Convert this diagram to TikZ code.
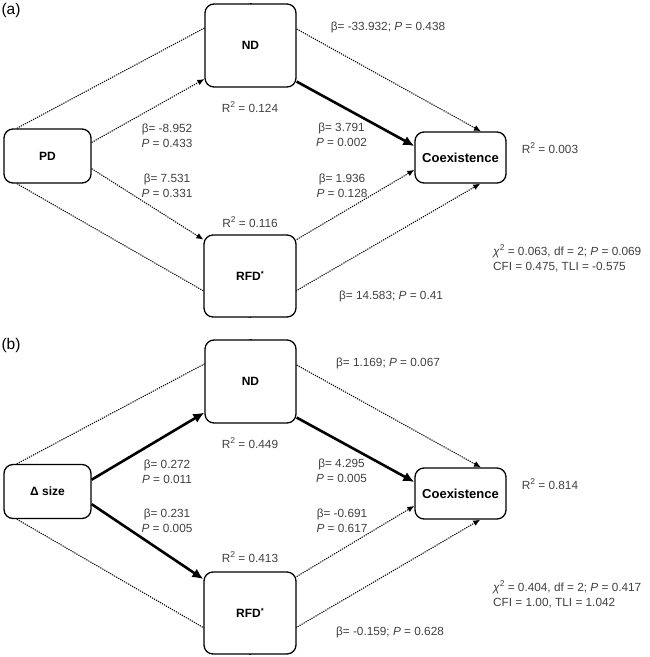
\documentclass[tikz,border=0pt]{standalone}
\usepackage{fontspec}
\setmainfont{Liberation Sans}
\usetikzlibrary{arrows.meta,backgrounds}
\definecolor{lblgray}{HTML}{404040}
\newcommand{\supt}[1]{\raisebox{0.42em}{\fontsize{8.5}{8.5}\selectfont #1}}
\newcommand{\smallstar}{\raisebox{0.38em}{\fontsize{7.5}{7.5}\selectfont *}}
\begin{document}
\begin{tikzpicture}[x=1pt,y=-1pt,
  box/.style={draw, line width=1.3pt, rounded corners=9pt, fill=white, inner sep=0pt,
    font=\fontsize{12}{14}\selectfont\bfseries},
  lbl/.style={text=lblgray, font=\fontsize{11.8}{15}\selectfont, align=center, inner sep=0pt},
  lbll/.style={lbl, align=left, anchor=west},
  dotline/.style={line width=1.05pt, dash pattern=on 1.2pt off 1.1pt},
  dotarrow/.style={dotline, -{Latex[length=7pt,width=6pt]}},
  thickarrow/.style={line width=2.6pt, -{Latex[length=11pt,width=10pt]}},
  panel/.style={font=\fontsize{15.5}{18}\selectfont, inner sep=0pt}
]
\useasboundingbox (0,0) rectangle (649,657);

% ---------- panel (a) ----------
\node[panel] (la) at (11,10) {(a)};
\node[box, minimum width=91pt, minimum height=83pt] (NDa) at (250.5,45.5) {ND};
\node[box, minimum width=87pt, minimum height=54pt] (PDa) at (47.5,156) {PD};
\node[box, minimum width=91pt, minimum height=51pt, font=\fontsize{13}{15}\selectfont\bfseries] (COa) at (460.5,157.5) {Coexistence};
\node[box, minimum width=92pt, minimum height=82pt] (RFa) at (250,276) {RFD\smallstar};

\begin{pgfonlayer}{background}
\draw[dotline] (PDa.138) -- (NDa.north);
\draw[dotarrow] (NDa.north) -- (COa.52);
\draw[dotline] (PDa.222) -- (RFa.south);
\draw[dotarrow] (RFa.south) -- (COa.307);
\end{pgfonlayer}
\draw[dotarrow] (PDa.17) -- (NDa.216);
\draw[dotarrow] (PDa.-16) -- (RFa.142);
\draw[thickarrow] (NDa.-38) -- (COa.166);
\draw[dotarrow] (RFa.38) -- (COa.195);

\node[lbl] (a1) at (388,27) {β= -33.932; \textit{P} = 0.438};
\node[lbl] (a2) at (250,107) {R\supt{2} = 0.124};
\node[lbl] (a3) at (167,135.5) {β= -8.952\\\textit{P} = 0.433};
\node[lbl] (a4) at (167,185.5) {β= 7.531\\\textit{P} = 0.331};
\node[lbl] (a5) at (341.5,135) {β= 3.791\\\textit{P} = 0.002};
\node[lbl] (a6) at (342,186) {β= 1.936\\\textit{P} = 0.128};
\node[lbl] (a7) at (550,148) {R\supt{2} = 0.003};
\node[lbl] (a8) at (250,222) {R\supt{2} = 0.116};
\node[lbll] (a9) at (493,258.5) {\textit{χ}\supt{2} = 0.063, df = 2; \textit{P} = 0.069\\CFI = 0.475, TLI = -0.575};
\node[lbl] (a10) at (391,296) {β= 14.583; \textit{P} = 0.41};

% ---------- panel (b) ----------
\node[panel] (lb) at (11,345) {(b)};
\node[box, minimum width=91pt, minimum height=83pt] (NDb) at (250.5,381.5) {ND};
\node[box, minimum width=87pt, minimum height=54pt] (PDb) at (47.5,491.5) {Δ size};
\node[box, minimum width=91pt, minimum height=51pt, font=\fontsize{13}{15}\selectfont\bfseries] (COb) at (460.5,493.5) {Coexistence};
\node[box, minimum width=92pt, minimum height=82pt] (RFb) at (250,613) {RFD\smallstar};

\begin{pgfonlayer}{background}
\draw[dotline] (PDb.138) -- (NDb.north);
\draw[dotarrow] (NDb.north) -- (COb.52);
\draw[dotline] (PDb.222) -- (RFb.south);
\draw[dotarrow] (RFb.south) -- (COb.307);
\end{pgfonlayer}
\draw[thickarrow] (PDb.15) -- (NDb.214);
\draw[thickarrow] (PDb.-16) -- (RFb.144);
\draw[thickarrow] (NDb.-38) -- (COb.166);
\draw[dotarrow] (RFb.38) -- (COb.195);

\node[lbl] (b1) at (388,363) {β= 1.169; \textit{P} = 0.067};
\node[lbl] (b2) at (250,443) {R\supt{2} = 0.449};
\node[lbl] (b3) at (167,472) {β= 0.272\\\textit{P} = 0.011};
\node[lbl] (b4) at (167,521) {β= 0.231\\\textit{P} = 0.005};
\node[lbl] (b5) at (341.5,471) {β= 4.295\\\textit{P} = 0.005};
\node[lbl] (b6) at (342,521) {β= -0.691\\\textit{P} = 0.617};
\node[lbl] (b7) at (550,484) {R\supt{2} = 0.814};
\node[lbl] (b8) at (250,557) {R\supt{2} = 0.413};
\node[lbll] (b9) at (493,594.5) {\textit{χ}\supt{2} = 0.404, df = 2; \textit{P} = 0.417\\CFI = 1.00, TLI = 1.042};
\node[lbl] (b10) at (390,632) {β= -0.159; \textit{P} = 0.628};
\end{tikzpicture}
\end{document}
